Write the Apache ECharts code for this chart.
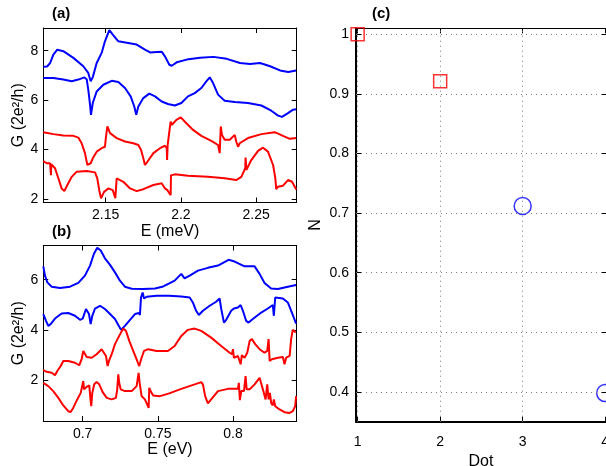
<!DOCTYPE html>
<html><head><meta charset="utf-8">
<script src="https://cdn.jsdelivr.net/npm/echarts@6/dist/echarts.min.js"></script>
<style>html,body{margin:0;padding:0;background:#fff}#c{width:606px;height:466px}</style>
</head><body><div id="c"></div>
<script>
// ---------- Panel (a): G vs E (meV) ----------
const aTicksX = [2.15, 2.2, 2.25];
const aTicksY = [2, 4, 6, 8];
const a1 = [[2.1085,7.35],[2.1110,7.36],[2.1130,7.50],[2.1152,7.84],[2.1178,8.04],[2.1218,7.98],[2.1285,7.71],[2.1351,7.37],[2.1384,7.10],[2.1400,6.76],[2.1414,6.93],[2.1440,7.50],[2.1473,7.91],[2.1495,8.38],[2.1524,8.83],[2.1547,8.65],[2.1584,8.38],[2.1640,8.32],[2.1706,8.25],[2.1761,8.04],[2.1795,7.93],[2.1839,7.95],[2.1872,7.96],[2.1894,7.77],[2.1923,7.43],[2.1939,7.39],[2.1972,7.53],[2.2039,7.64],[2.2127,7.71],[2.2216,7.75],[2.2305,7.67],[2.2393,7.50],[2.2460,7.46],[2.2526,7.50],[2.2593,7.37],[2.2659,7.20],[2.2714,7.14],[2.2766,7.20]];
const a2 = [[2.1085,6.89],[2.1152,6.89],[2.1218,6.83],[2.1274,6.76],[2.1318,6.83],[2.1358,6.92],[2.1374,6.83],[2.1384,6.42],[2.1396,5.81],[2.1402,5.40],[2.1414,5.88],[2.1440,6.35],[2.1484,6.62],[2.1540,6.78],[2.1584,6.73],[2.1628,6.49],[2.1666,6.15],[2.1690,5.74],[2.1703,5.40],[2.1717,5.74],[2.1750,6.08],[2.1790,6.26],[2.1828,6.15],[2.1872,5.94],[2.1914,5.84],[2.1959,5.78],[2.2003,5.88],[2.2047,6.15],[2.2092,6.28],[2.2136,6.49],[2.2169,6.76],[2.2192,6.92],[2.2214,6.69],[2.2247,6.22],[2.2291,5.97],[2.2358,5.92],[2.2446,5.88],[2.2535,5.78],[2.2601,5.57],[2.2646,5.37],[2.2672,5.32],[2.2712,5.47],[2.2746,5.61],[2.2767,5.63]];
const a3 = [[2.1085,4.70],[2.1152,4.62],[2.1218,4.56],[2.1285,4.55],[2.1318,4.48],[2.1340,4.25],[2.1362,3.85],[2.1378,3.37],[2.1391,3.30],[2.1400,3.44],[2.1414,3.64],[2.1440,3.91],[2.1473,4.05],[2.1495,4.11],[2.1502,4.52],[2.1511,4.93],[2.1529,4.66],[2.1573,4.46],[2.1628,4.32],[2.1684,4.25],[2.1717,4.18],[2.1735,3.98],[2.1750,3.64],[2.1761,3.37],[2.1777,3.50],[2.1817,3.85],[2.1861,4.05],[2.1894,4.15],[2.1906,4.05],[2.1908,3.57],[2.1912,4.18],[2.1923,4.72],[2.1926,4.86],[2.1932,5.13],[2.1941,5.00],[2.1970,5.20],[2.1999,5.30],[2.2025,5.13],[2.2081,4.79],[2.2136,4.55],[2.2202,4.35],[2.2247,4.18],[2.2258,3.85],[2.2265,4.93],[2.2273,4.59],[2.2291,4.39],[2.2325,4.39],[2.2358,4.59],[2.2368,4.32],[2.2380,4.11],[2.2391,4.25],[2.2446,4.46],[2.2535,4.62],[2.2624,4.70],[2.2679,4.55],[2.2724,4.43],[2.2767,4.46]];
const a4 = [[2.1085,3.53],[2.1108,3.44],[2.1130,3.44],[2.1134,3.44],[2.1136,2.96],[2.1138,3.40],[2.1163,3.24],[2.1185,2.83],[2.1207,2.42],[2.1225,2.31],[2.1245,2.56],[2.1274,2.89],[2.1307,3.10],[2.1374,3.13],[2.1429,3.07],[2.1444,2.83],[2.1457,2.35],[2.1469,2.02],[2.1489,2.28],[2.1517,2.42],[2.1547,2.35],[2.1564,2.02],[2.1567,2.02],[2.1573,2.83],[2.1584,2.85],[2.1617,2.69],[2.1662,2.42],[2.1706,2.31],[2.1750,2.39],[2.1817,2.56],[2.1872,2.63],[2.1894,2.42],[2.1910,2.35],[2.1914,2.28],[2.1932,2.15],[2.1934,2.95],[2.1941,3.03],[2.1959,2.99],[2.2047,2.93],[2.2180,2.89],[2.2291,2.83],[2.2368,2.76],[2.2402,2.89],[2.2428,3.24],[2.2430,3.67],[2.2436,3.17],[2.2468,3.57],[2.2513,3.94],[2.2546,4.07],[2.2579,3.91],[2.2613,3.37],[2.2628,2.83],[2.2634,2.39],[2.2646,2.49],[2.2679,2.53],[2.2712,2.76],[2.2739,2.69],[2.2767,2.38]];

// ---------- Panel (b): G vs E (eV) ----------
const bTicksX = [0.7, 0.75, 0.8];
const bTicksY = [2, 4, 6];
const b1 = [[0.6738,6.53],[0.6749,6.16],[0.6765,5.89],[0.6794,5.72],[0.6849,5.67],[0.6916,5.72],[0.6971,5.87],[0.7015,6.16],[0.7049,6.56],[0.7075,7.03],[0.7097,7.27],[0.7120,7.16],[0.7148,6.85],[0.7182,6.59],[0.7215,6.29],[0.7248,5.96],[0.7281,5.72],[0.7326,5.64],[0.7403,5.63],[0.7481,5.65],[0.7536,5.73],[0.7576,5.85],[0.7612,5.96],[0.7656,6.23],[0.7678,6.05],[0.7712,6.16],[0.7767,6.36],[0.7833,6.47],[0.7900,6.56],[0.7971,6.79],[0.8011,6.72],[0.8077,6.53],[0.8144,6.53],[0.8177,6.23],[0.8210,5.87],[0.8254,5.65],[0.8299,5.63],[0.8365,5.72],[0.8420,5.79]];
const b2 = [[0.6738,4.63],[0.6756,4.36],[0.6771,4.16],[0.6787,4.23],[0.6816,4.45],[0.6860,4.65],[0.6904,4.67],[0.6949,4.56],[0.6982,4.40],[0.7000,4.45],[0.7022,4.83],[0.7031,4.89],[0.7042,4.63],[0.7053,4.23],[0.7064,4.56],[0.7082,4.85],[0.7115,4.96],[0.7148,4.83],[0.7182,4.63],[0.7215,4.43],[0.7237,4.19],[0.7255,4.00],[0.7281,4.16],[0.7315,4.40],[0.7348,4.63],[0.7374,4.67],[0.7381,4.59],[0.7388,5.29],[0.7399,5.49],[0.7408,5.25],[0.7426,5.32],[0.7492,5.36],[0.7576,5.36],[0.7656,5.33],[0.7712,5.29],[0.7733,5.09],[0.7755,4.76],[0.7773,4.59],[0.7800,4.76],[0.7845,4.96],[0.7888,5.12],[0.7911,5.25],[0.7922,4.83],[0.7940,4.29],[0.7955,4.40],[0.7988,4.76],[0.8006,4.85],[0.8033,4.89],[0.8051,4.99],[0.8066,4.76],[0.8088,4.36],[0.8104,4.29],[0.8132,4.43],[0.8188,4.69],[0.8232,4.85],[0.8265,4.99],[0.8272,4.56],[0.8281,5.29],[0.8294,5.36],[0.8332,5.25],[0.8365,5.09],[0.8392,4.69],[0.8420,4.25]];
const b3 = [[0.6738,2.40],[0.6761,2.33],[0.6794,2.29],[0.6816,2.19],[0.6831,2.36],[0.6854,2.56],[0.6871,2.76],[0.6876,2.83],[0.6904,2.76],[0.6949,2.69],[0.6977,2.59],[0.6993,2.83],[0.7004,3.16],[0.7015,3.09],[0.7027,2.92],[0.7060,2.89],[0.7093,3.03],[0.7126,3.23],[0.7137,3.25],[0.7155,2.96],[0.7166,2.56],[0.7175,2.76],[0.7193,3.03],[0.7215,3.43],[0.7243,3.76],[0.7270,4.05],[0.7288,3.96],[0.7310,3.56],[0.7341,3.09],[0.7363,2.76],[0.7376,2.56],[0.7392,2.89],[0.7408,3.16],[0.7436,3.23],[0.7492,3.16],[0.7567,3.16],[0.7612,3.36],[0.7656,3.76],[0.7700,4.00],[0.7745,4.05],[0.7789,3.96],[0.7855,3.69],[0.7922,3.36],[0.7978,3.09],[0.7993,3.03],[0.8000,3.23],[0.8006,2.89],[0.8033,2.96],[0.8046,2.93],[0.8051,2.63],[0.8059,2.99],[0.8077,2.89],[0.8095,3.09],[0.8111,3.56],[0.8126,3.63],[0.8148,3.43],[0.8177,3.23],[0.8210,3.09],[0.8228,3.16],[0.8237,3.63],[0.8244,2.76],[0.8259,2.83],[0.8299,2.89],[0.8332,2.92],[0.8343,2.63],[0.8354,2.89],[0.8377,2.96],[0.8387,3.63],[0.8398,4.00],[0.8410,4.03],[0.8418,3.89]];
const b4 = [[0.6738,1.89],[0.6771,1.76],[0.6804,1.56],[0.6838,1.29],[0.6871,0.99],[0.6904,0.76],[0.6920,0.73],[0.6937,0.89],[0.6964,1.23],[0.6987,1.49],[0.7000,1.56],[0.7004,1.96],[0.7009,1.63],[0.7027,1.73],[0.7044,1.79],[0.7051,1.29],[0.7057,0.96],[0.7064,1.49],[0.7077,1.83],[0.7093,1.92],[0.7110,1.83],[0.7133,1.52],[0.7160,1.29],[0.7193,1.23],[0.7221,1.29],[0.7230,1.63],[0.7237,2.23],[0.7243,1.89],[0.7253,1.63],[0.7281,1.56],[0.7326,1.56],[0.7359,1.76],[0.7372,2.29],[0.7379,1.89],[0.7392,1.36],[0.7414,1.23],[0.7432,0.99],[0.7439,0.89],[0.7443,1.69],[0.7452,1.56],[0.7469,1.39],[0.7514,1.36],[0.7576,1.47],[0.7656,1.65],[0.7745,1.83],[0.7789,1.92],[0.7800,1.83],[0.7815,1.36],[0.7833,1.07],[0.7855,1.23],[0.7900,1.56],[0.7966,1.65],[0.8033,1.65],[0.8039,1.89],[0.8046,1.20],[0.8055,1.56],[0.8073,1.56],[0.8084,2.16],[0.8091,1.63],[0.8111,1.63],[0.8144,1.83],[0.8177,2.09],[0.8186,2.16],[0.8199,1.63],[0.8217,1.23],[0.8228,1.83],[0.8237,1.23],[0.8246,1.49],[0.8254,1.09],[0.8265,0.99],[0.8272,1.23],[0.8281,0.96],[0.8310,0.83],[0.8343,0.72],[0.8377,0.69],[0.8398,0.76],[0.8414,0.96],[0.8420,1.36]];

// ---------- Panel (c): N vs Dot ----------
const cTicksX = [1, 2, 3, 4];
const cTicksY = [0.4, 0.5, 0.6, 0.7, 0.8, 0.9, 1.0];
const cSquares = [[1, 1.0], [2, 0.921]];
const cCircles = [[3, 0.712], [4, 0.398]];

const FONT = 'Liberation Sans';
const BLUE = '#0000ff', RED = '#ff0000';

function mainX(grid, min, max, ticks, name, gap) {
  return { type: 'value', gridIndex: grid, min: min, max: max, position: 'bottom',
    name: name, nameLocation: 'middle', nameGap: gap,
    nameTextStyle: { fontFamily: FONT, fontSize: 16, color: '#000' },
    axisLine: { show: true, onZero: false, lineStyle: { color: '#000', width: 1 } },
    axisTick: { show: true, inside: true, length: 5, customValues: ticks, lineStyle: { color: '#000' } },
    axisLabel: { show: true, customValues: ticks, margin: 6, fontFamily: FONT, fontSize: 14, color: '#000' },
    splitLine: { show: false } };
}
function mirrorX(grid, min, max, ticks) {
  return { type: 'value', gridIndex: grid, min: min, max: max, position: 'top',
    axisLine: { show: true, onZero: false, lineStyle: { color: '#000', width: 1 } },
    axisTick: { show: true, inside: true, length: 5, customValues: ticks, lineStyle: { color: '#000' } },
    axisLabel: { show: false }, splitLine: { show: false } };
}
function mainY(grid, min, max, ticks, name, gap) {
  return { type: 'value', gridIndex: grid, min: min, max: max, position: 'left',
    name: name, nameLocation: 'middle', nameGap: gap, nameRotate: 90,
    nameTextStyle: { fontFamily: FONT, fontSize: 16, color: '#000' },
    axisLine: { show: true, onZero: false, lineStyle: { color: '#000', width: 1 } },
    axisTick: { show: true, inside: true, length: 5, customValues: ticks, lineStyle: { color: '#000' } },
    axisLabel: { show: true, customValues: ticks, margin: 5, fontFamily: FONT, fontSize: 14, color: '#000' },
    splitLine: { show: false } };
}
function mirrorY(grid, min, max, ticks) {
  return { type: 'value', gridIndex: grid, min: min, max: max, position: 'right',
    axisLine: { show: true, onZero: false, lineStyle: { color: '#000', width: 1 } },
    axisTick: { show: true, inside: true, length: 5, customValues: ticks, lineStyle: { color: '#000' } },
    axisLabel: { show: false }, splitLine: { show: false } };
}
function curve(data, color, xi, yi) {
  return { type: 'line', data: data, xAxisIndex: xi, yAxisIndex: yi, symbol: 'none',
    lineStyle: { color: color, width: 2 }, itemStyle: { color: color }, silent: true, animation: false };
}

const cx = mainX(2, 0.98, 4.01, cTicksX, 'Dot', 22);
cx.axisLine.lineStyle.width = 2;
cx.axisLabel.margin = 13;
const cy = mainY(2, 0.35, 1.01, cTicksY, 'N', 32);
cy.axisLine.lineStyle.width = 2;
cy.axisLabel.margin = 7;

const gridLineStyle = { color: '#7a7a7a', width: 1, type: [1, 4] };
const gridLines = cTicksX.slice(0, 3).map(v => ({ xAxis: v }))
  .concat(cTicksY.map(v => ({ yAxis: v })));

const option = {
  animation: false,
  backgroundColor: '#fff',
  textStyle: { fontFamily: FONT },
  grid: [
    { left: 43.3, top: 28, width: 253.4, height: 174.5, outerBoundsMode: 'none', containLabel: false },
    { left: 43.3, top: 245.5, width: 253.4, height: 175.5, outerBoundsMode: 'none', containLabel: false },
    { left: 356, top: 28.3, width: 250, height: 393.4, outerBoundsMode: 'none', containLabel: false }
  ],
  xAxis: [
    mainX(0, 2.1085, 2.277, aTicksX, 'E (meV)', 18), mirrorX(0, 2.1085, 2.277, aTicksX),
    mainX(1, 0.6738, 0.8424, bTicksX, 'E (eV)', 21), mirrorX(1, 0.6738, 0.8424, bTicksX),
    cx, mirrorX(2, 0.98, 4.01, cTicksX)
  ],
  yAxis: [
    mainY(0, 1.85, 8.92, aTicksY, 'G (2e²/h)', 16), mirrorY(0, 1.85, 8.92, aTicksY),
    mainY(1, 0.37, 7.36, bTicksY, 'G (2e²/h)', 16), mirrorY(1, 0.37, 7.36, bTicksY),
    cy, mirrorY(2, 0.35, 1.01, cTicksY)
  ],
  series: [
    curve(a1, BLUE, 0, 0), curve(a2, BLUE, 0, 0), curve(a3, RED, 0, 0), curve(a4, RED, 0, 0),
    curve(b1, BLUE, 2, 2), curve(b2, BLUE, 2, 2), curve(b3, RED, 2, 2), curve(b4, RED, 2, 2),
    { type: 'scatter', xAxisIndex: 4, yAxisIndex: 4, data: cSquares, symbol: 'rect', symbolSize: 13,
      itemStyle: { color: 'rgba(0,0,0,0)', borderColor: RED, borderWidth: 1.5 }, clip: false, silent: true,
      markLine: { silent: true, symbol: ['none', 'none'], label: { show: false }, lineStyle: gridLineStyle,
        emphasis: { disabled: true }, data: gridLines }, z: 3 },
    { type: 'scatter', xAxisIndex: 4, yAxisIndex: 4, data: cCircles, symbol: 'circle', symbolSize: 17,
      itemStyle: { color: 'rgba(0,0,0,0)', borderColor: BLUE, borderWidth: 1.5 }, clip: false, silent: true, z: 3 }
  ],
  graphic: [
    { type: 'text', left: 52, top: 6, style: { text: '(a)', font: 'bold 15px "Liberation Sans"', fill: '#000' } },
    { type: 'text', left: 52, top: 224, style: { text: '(b)', font: 'bold 15px "Liberation Sans"', fill: '#000' } },
    { type: 'text', left: 372, top: 6, style: { text: '(c)', font: 'bold 15px "Liberation Sans"', fill: '#000' } }
  ]
};
const chart = echarts.init(document.getElementById('c'), null, { renderer: 'canvas' });
chart.setOption(option);
</script>
</body></html>
